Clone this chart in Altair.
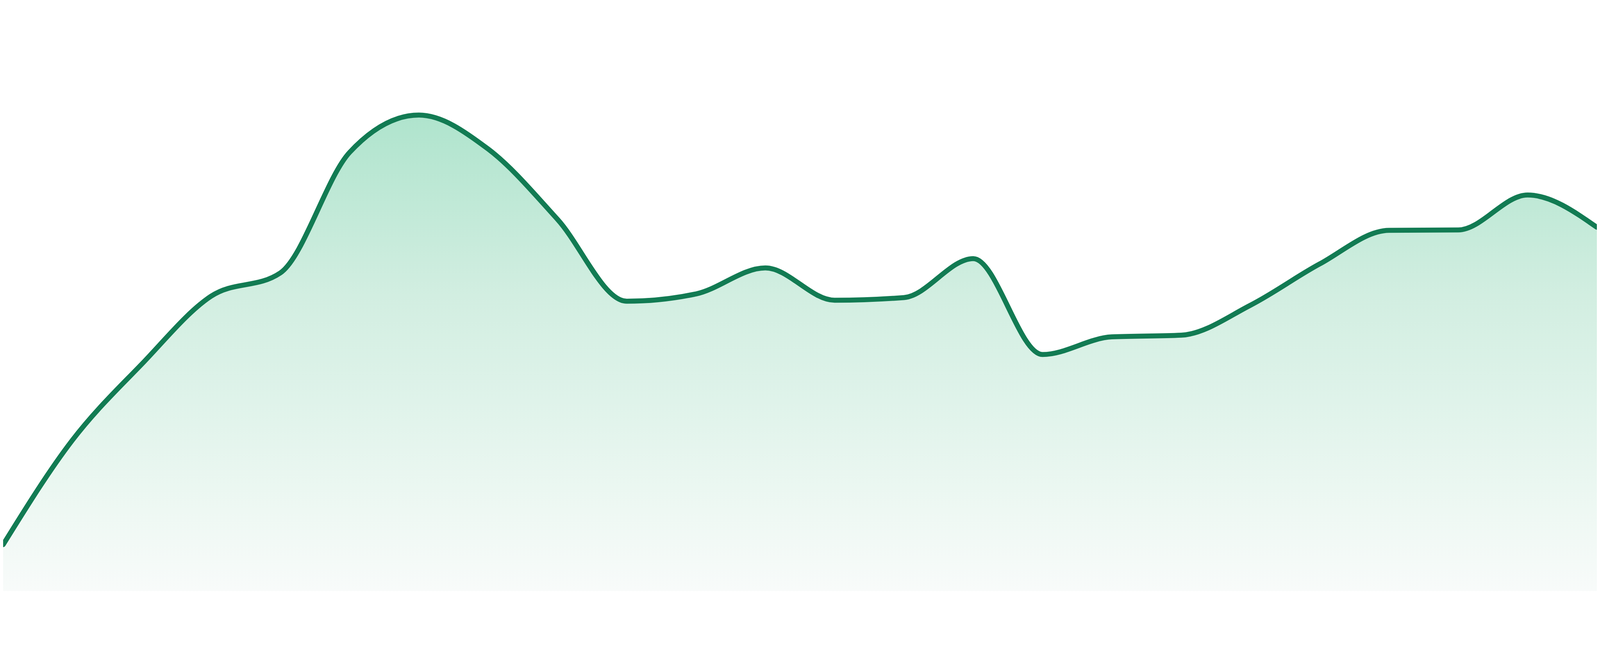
import altair as alt
import pandas as pd

# Values (height above baseline, arbitrary units)
points = list(range(24))
values = [139, 453, 681, 885, 955, 1317, 1429, 1327, 1116, 870, 892, 970,
          873, 881, 998, 710, 763, 768, 858, 982, 1083, 1084, 1189, 1092]

df = pd.DataFrame({"idx": points, "value": values})

line_color = "#127b53"
grad_colors = ["#afe4cd", "#d2eee1", "#dff3ea", "#eef8f3", "#f8fbfa"]
grad_offsets = [0.0, 0.38, 0.6, 0.83, 1.0]

x_enc = alt.X("idx:Q", axis=None, scale=alt.Scale(domain=[0, 23], nice=False, zero=False))
y_enc = alt.Y("value:Q", axis=None, scale=alt.Scale(domain=[0, 1625], nice=False, zero=True))

area = alt.Chart(df).mark_area(
    interpolate="monotone",
    fill=alt.Gradient(
        gradient="linear",
        stops=[alt.GradientStop(color=c, offset=o) for c, o in zip(grad_colors, grad_offsets)],
        x1=0, x2=0, y1=0, y2=1,
    ),
    strokeWidth=0,
).encode(x=x_enc, y=y_enc)

line = alt.Chart(df).mark_line(
    interpolate="monotone",
    color=line_color,
    strokeWidth=15,
    strokeCap="round",
    strokeJoin="round",
).encode(x=x_enc, y=y_enc)

chart = alt.layer(area, line).properties(
    width=4784,
    height=1625,
    padding=0,
    autosize=alt.AutoSizeParams(type="none"),
    background="white",
).configure_view(stroke=None)

chart.save("out.html", embed_options={"renderer": "svg", "actions": False})
